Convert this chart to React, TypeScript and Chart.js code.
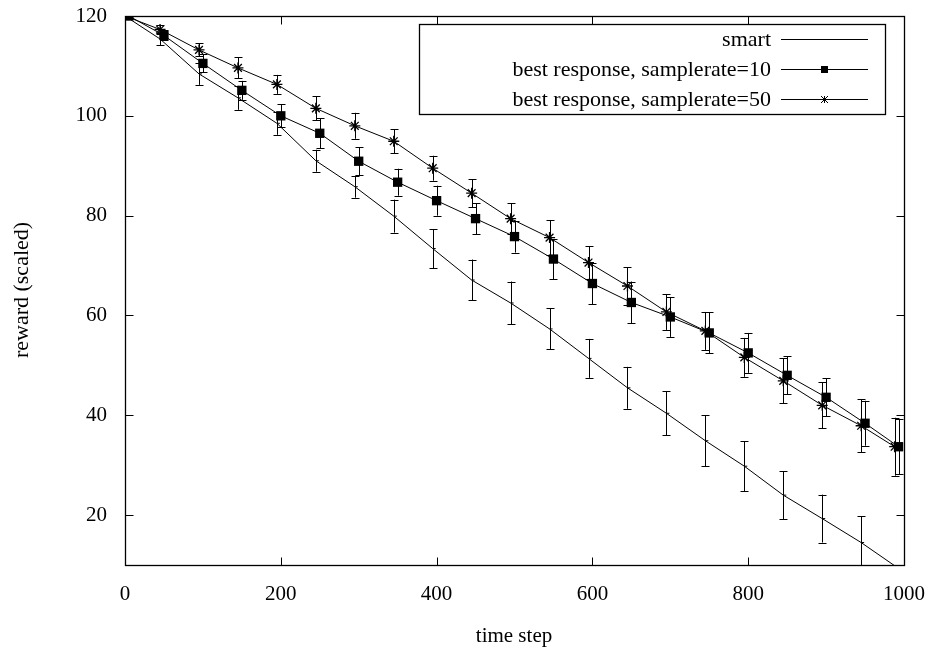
import React, { useEffect, useRef } from "react";
import { Chart, registerables } from "chart.js";

Chart.register(...registerables);

const xTicks = [0, 200, 400, 600, 800, 1000];
const yTicks = [20, 40, 60, 80, 100, 120];

const xSmart = [0, 45, 95, 145, 195, 245, 295, 345, 395, 445, 495, 545, 595, 645, 695, 745, 795, 845, 895, 945, 995];
const smartVals = [120, 115.4, 108.4, 103.6, 98.5, 91.0, 85.8, 79.9, 73.4, 67.1, 62.5, 57.3, 51.4, 45.5, 40.4, 34.9, 29.8, 24.0, 19.3, 14.5, 9.1];
const smartErr = [0, 1.2, 2.2, 2.4, 2.3, 2.2, 2.2, 3.3, 3.9, 4.1, 4.3, 4.1, 3.9, 4.2, 4.4, 5.1, 5.0, 4.8, 4.8, 5.3, 5.5];

const xBr10 = [5, 50, 100, 150, 200, 250, 300, 350, 400, 450, 500, 550, 600, 650, 700, 750, 800, 850, 900, 950, 993];
const br10Vals = [120, 116.1, 110.5, 105.1, 100.0, 96.5, 90.9, 86.7, 83.0, 79.4, 75.8, 71.3, 66.4, 62.6, 59.7, 56.5, 52.5, 48.0, 43.6, 38.4, 33.7];
const br10Err = [0, 1.0, 1.8, 1.9, 2.3, 3.0, 2.8, 2.7, 3.0, 3.1, 3.2, 4.0, 4.1, 4.2, 4.0, 4.1, 4.0, 3.8, 3.8, 4.5, 5.5];

const xBr50 = [0, 45, 95, 145, 195, 245, 295, 345, 395, 445, 495, 545, 595, 645, 695, 745, 795, 845, 895, 945, 988];
const br50Vals = [120, 117.3, 113.2, 109.6, 106.3, 101.5, 98.0, 94.9, 89.5, 84.5, 79.4, 75.6, 70.6, 65.9, 60.7, 56.9, 51.6, 46.9, 42.0, 37.9, 33.7];
const br50Err = [0, 0.9, 1.3, 2.1, 1.9, 2.4, 2.6, 2.4, 2.5, 2.8, 3.1, 3.5, 3.3, 3.8, 3.6, 3.8, 3.9, 4.5, 4.6, 5.3, 5.8];

const seriesNames = ["smart", "best response, samplerate=10", "best response, samplerate=50"];
const xTitle = "time step";
const yTitle = "reward (scaled)";

const FONT = "'Liberation Serif', 'DejaVu Serif', serif";
const TICK_SIZE = 21;
const LEGEND_SIZE = 22;

const errs = [smartErr, br10Err, br50Err];

function drawMarker(ctx: CanvasRenderingContext2D, style: string, x: number, y: number) {
  ctx.save();
  ctx.strokeStyle = "#000";
  ctx.fillStyle = "#000";
  ctx.lineWidth = 1;
  if (style === "rect") {
    ctx.fillRect(x - 3.5, y - 3.5, 7, 7);
  } else if (style === "star") {
    const r = 3.5;
    ctx.beginPath();
    ctx.moveTo(x - r, y); ctx.lineTo(x + r, y);
    ctx.moveTo(x, y - r); ctx.lineTo(x, y + r);
    ctx.moveTo(x - r, y - r); ctx.lineTo(x + r, y + r);
    ctx.moveTo(x - r, y + r); ctx.lineTo(x + r, y - r);
    ctx.stroke();
  }
  ctx.restore();
}

const decorPlugin = {
  id: "decor",
  afterDatasetsDraw(chart: any) {
    const ctx: CanvasRenderingContext2D = chart.ctx;
    const area = chart.chartArea;
    const xs = chart.scales.x;
    const ys = chart.scales.y;
    ctx.save();
    ctx.beginPath();
    ctx.rect(area.left, area.top, area.right - area.left, area.bottom - area.top);
    ctx.clip();
    ctx.strokeStyle = "#000";
    ctx.lineWidth = 1;
    chart.data.datasets.forEach((ds: any, i: number) => {
      const e = errs[i];
      ds.data.forEach((p: any, j: number) => {
        if (!e[j]) return;
        if (p.y < ys.min || p.y > ys.max) return;
        const px = Math.round(xs.getPixelForValue(p.x)) + 0.5;
        const y1 = ys.getPixelForValue(p.y - e[j]);
        const y2 = ys.getPixelForValue(p.y + e[j]);
        ctx.beginPath();
        ctx.moveTo(px, y1); ctx.lineTo(px, y2);
        ctx.moveTo(px - 4, Math.round(y1) + 0.5); ctx.lineTo(px + 4, Math.round(y1) + 0.5);
        ctx.moveTo(px - 4, Math.round(y2) + 0.5); ctx.lineTo(px + 4, Math.round(y2) + 0.5);
        ctx.stroke();
      });
    });
    ctx.restore();
  },
  afterDraw(chart: any) {
    const ctx: CanvasRenderingContext2D = chart.ctx;
    const area = chart.chartArea;
    const xs = chart.scales.x;
    const ys = chart.scales.y;
    const L = Math.round(area.left) + 0.5;
    const R = Math.round(area.right) + 0.5;
    const T = Math.round(area.top) + 0.5;
    const B = Math.round(area.bottom) + 0.5;
    ctx.save();
    ctx.strokeStyle = "#000";
    ctx.lineWidth = 1.3;
    ctx.strokeRect(L, T, R - L, B - T);
    ctx.lineWidth = 1;
    const tl = 8;
    ctx.beginPath();
    xTicks.forEach((v) => {
      const px = Math.round(xs.getPixelForValue(v)) + 0.5;
      ctx.moveTo(px, B); ctx.lineTo(px, B - tl);
      ctx.moveTo(px, T); ctx.lineTo(px, T + tl);
    });
    yTicks.forEach((v) => {
      const py = Math.round(ys.getPixelForValue(v)) + 0.5;
      ctx.moveTo(L, py); ctx.lineTo(L + tl, py);
      ctx.moveTo(R, py); ctx.lineTo(R - tl, py);
    });
    ctx.stroke();

    // legend
    const bx = 419.5, by = 24.5, bw = 466, bh = 90;
    ctx.fillStyle = "#fff";
    ctx.fillRect(bx, by, bw, bh);
    ctx.lineWidth = 1.3;
    ctx.strokeRect(bx, by, bw, bh);
    ctx.lineWidth = 1;
    ctx.fillStyle = "#000";
    ctx.font = `${LEGEND_SIZE}px ${FONT}`;
    ctx.textAlign = "right";
    ctx.textBaseline = "middle";
    const styles = ["none", "rect", "star"];
    seriesNames.forEach((name, i) => {
      const y = 39.5 + i * 30;
      ctx.fillText(name, 771, y + 1);
      ctx.beginPath();
      ctx.moveTo(781, y); ctx.lineTo(868, y);
      ctx.stroke();
      drawMarker(ctx, styles[i], 824.5, y);
    });

    // axis titles
    ctx.font = `${TICK_SIZE}px ${FONT}`;
    ctx.textAlign = "center";
    ctx.textBaseline = "middle";
    ctx.fillText(xTitle, 514, 636);
    ctx.font = `${LEGEND_SIZE}px ${FONT}`;
    ctx.translate(22, 290);
    ctx.rotate(-Math.PI / 2);
    ctx.fillText(yTitle, 0, 0);
    ctx.restore();
  },
};

export default function App() {
  const ref = useRef<HTMLCanvasElement | null>(null);
  useEffect(() => {
    if (!ref.current) return;
    const mk = (xv: number[], yv: number[]) => xv.map((x, i) => ({ x, y: yv[i] }));
    const chart = new Chart(ref.current, {
      type: "line",
      data: {
        datasets: [
          {
            label: seriesNames[0],
            data: mk(xSmart, smartVals),
            borderColor: "#000",
            backgroundColor: "#000",
            borderWidth: 1,
            pointStyle: "dash",
            pointRadius: 3,
            pointBorderWidth: 1,
            tension: 0,
          },
          {
            label: seriesNames[1],
            data: mk(xBr10, br10Vals),
            borderColor: "#000",
            backgroundColor: "#000",
            borderWidth: 1,
            pointStyle: "rect",
            pointRadius: 6.6,
            pointBorderWidth: 0,
            tension: 0,
          },
          {
            label: seriesNames[2],
            data: mk(xBr50, br50Vals),
            borderColor: "#000",
            backgroundColor: "#000",
            borderWidth: 1,
            pointStyle: "star",
            pointRadius: 5.5,
            pointBorderWidth: 1.3,
            tension: 0,
          },
        ],
      },
      options: {
        animation: false,
        responsive: false,
        parsing: false as any,
        layout: { padding: { top: 16, right: 27, left: 0, bottom: 0 } },
        plugins: { legend: { display: false }, tooltip: { enabled: false } },
        scales: {
          x: {
            type: "linear",
            min: 0,
            max: 1000,
            grid: { display: false, drawTicks: false },
            border: { display: false },
            ticks: {
              color: "#000",
              font: { family: FONT, size: TICK_SIZE },
              padding: 17,
              maxRotation: 0,
              callback: (v: any) => String(v),
            },
            afterBuildTicks: (s: any) => { s.ticks = xTicks.map((v) => ({ value: v })); },
            afterFit: (s: any) => { s.height = 88; s.paddingLeft = 0; s.paddingRight = 0; },
          },
          y: {
            type: "linear",
            min: 10,
            max: 120,
            grid: { display: false, drawTicks: false },
            border: { display: false },
            ticks: {
              color: "#000",
              font: { family: FONT, size: TICK_SIZE },
              padding: 18,
              callback: (v: any) => String(v),
            },
            afterBuildTicks: (s: any) => { s.ticks = yTicks.map((v) => ({ value: v })); },
            afterFit: (s: any) => { s.width = 125; s.paddingTop = 0; s.paddingBottom = 0; },
          },
        },
      },
      plugins: [decorPlugin],
    });
    return () => chart.destroy();
  }, []);
  return (
    <div style={{ position: "absolute", left: 0, top: 0, width: 931, height: 653, background: "#fff" }}>
      <canvas ref={ref} width={931} height={653} />
    </div>
  );
}
